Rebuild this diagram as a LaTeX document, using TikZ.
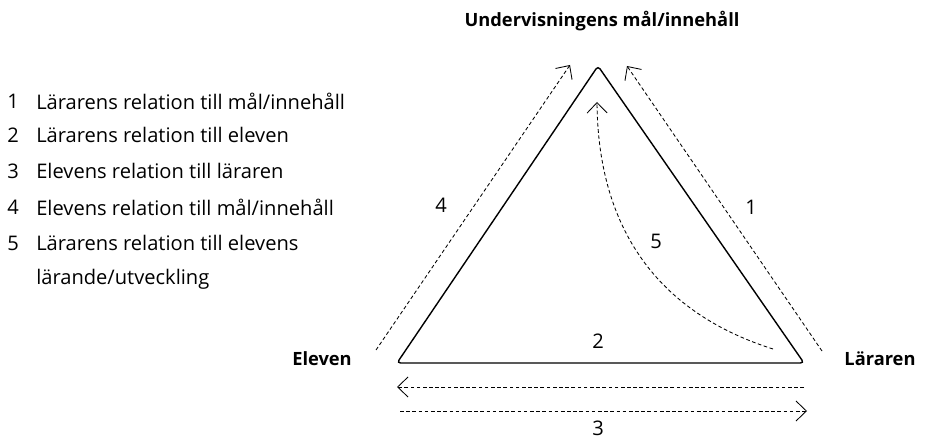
\documentclass[tikz,border=0pt]{standalone}
\usepackage{fontspec}
\setmainfont{Open Sans}
\usetikzlibrary{arrows.meta}

\begin{document}
\begin{tikzpicture}[x=0.025cm, y=-0.025cm, font=\fontsize{14.3}{16}\selectfont,
  relation/.style={dash pattern=on 2.6pt off 1.8pt, line width=0.6pt, -{Straight Barb[length=2.6mm,width=5mm]}},
  corner/.style={font=\fontsize{13}{16}\selectfont\bfseries},
  nr/.style={inner sep=0pt}]
\useasboundingbox (0,0) rectangle (928,439);
% triangle
\coordinate (eA) at (397,363);
\coordinate (mA) at (598,66);
\coordinate (lA) at (804,363);
\draw[line width=1pt, rounded corners=2.5pt] (eA) -- (mA) -- (lA) -- cycle;
% corner labels
\node[corner] (mal) at (602,21) {Undervisningens mål/innehåll};
\node[corner] (eleven) at (322,359) {Eleven};
\node[corner] (lararen) at (880,359) {Läraren};
% arrow ends
\coordinate (s4) at (376,350);
\coordinate (t4) at (570,65);
\coordinate (s1) at (822,351);
\coordinate (t1) at (627,66);
\coordinate (s5) at (773,349);
\coordinate (t5) at (597,102);
\coordinate (s2) at (804,387);
\coordinate (t2) at (397,387);
\coordinate (s3) at (400,411);
\coordinate (t3) at (807,411);
\draw[relation] (s4) -- (t4);
\draw[relation] (s1) -- (t1);
\draw[relation] (s5) .. controls (650,310) and (598,220) .. (t5);
\draw[relation] (s2) -- (t2);
\draw[relation] (s3) -- (t3);
% numbers
\node[nr] (n1) at (751,207) {1};
\node[nr] (n2) at (598,341) {2};
\node[nr] (n3) at (598,428) {3};
\node[nr] (n4) at (441,205) {4};
\node[nr] (n5) at (656,241) {5};
% legend
\node[nr] (k1) at (13,101) {1};
\node[nr, anchor=west] (l1) at (36,101) {Lärarens relation till mål/innehåll};
\node[nr] (k2) at (13,135) {2};
\node[nr, anchor=west] (l2) at (36,135) {Lärarens relation till eleven};
\node[nr] (k3) at (13,171) {3};
\node[nr, anchor=west] (l3) at (36,171) {Elevens relation till läraren};
\node[nr] (k4) at (13,207) {4};
\node[nr, anchor=west] (l4) at (36,207) {Elevens relation till mål/innehåll};
\node[nr] (k5) at (13,243) {5};
\node[nr, anchor=west] (l5) at (36,243) {Lärarens relation till elevens};
\node[nr, anchor=west] (l5b) at (36,279) {lärande/utveckling};
\end{tikzpicture}
\end{document}
